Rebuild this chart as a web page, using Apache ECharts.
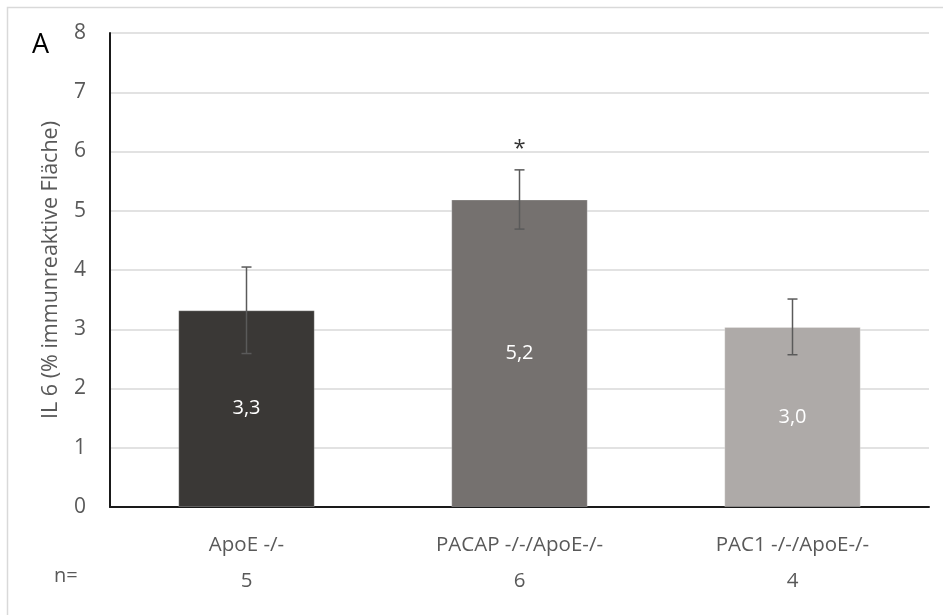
<!DOCTYPE html>
<html>
<head>
<meta charset="utf-8">
<script src="https://cdn.jsdelivr.net/npm/echarts@6/dist/echarts.min.js"></script>
<style>html,body{margin:0;padding:0;background:#fff;}#c{width:943px;height:615px;}</style>
</head>
<body>
<div id="c"></div>
<script>
const categories = ['ApoE -/-', 'PACAP -/-/ApoE-/-', 'PAC1 -/-/ApoE-/-'];
const nValues = [5, 6, 4];
const means = [3.32, 5.19, 3.04];
const errors = [0.73, 0.50, 0.47];
const valueLabels = ['3,3', '5,2', '3,0'];
const significance = ['', '*', ''];
const barColors = ['#3a3836', '#75716f', '#aeaaa8'];
const yTicks = { min: 0, max: 8, interval: 1 };
const yAxisName = 'IL 6 (% immunreaktive Fläche)';
const panelLetter = 'A';

const font = '"Open Sans", "Noto Sans", sans-serif';
const chart = echarts.init(document.getElementById('c'));

const barData = means.map((v, i) => ({
  value: v,
  itemStyle: { color: barColors[i] },
  label: { formatter: valueLabels[i] }
}));
const errData = means.map((v, i) => [i, v - errors[i], v + errors[i]]);
const sigData = means.map((v, i) => ({ value: [i, v + errors[i]], label: { formatter: significance[i] } }));

chart.setOption({
  animation: false,
  backgroundColor: '#fff',
  textStyle: { fontFamily: font },
  grid: { left: 110, right: 14, top: 33, bottom: 108 },
  graphic: [
    { type: 'rect', shape: { x: 7.5, y: 7.5, width: 960, height: 640 }, style: { fill: 'none', stroke: '#d9d9d9', lineWidth: 1.5 }, silent: true },
    { type: 'text', left: 32, top: 32, style: { text: panelLetter, fontSize: 27, fill: '#000', fontFamily: font } },
    { type: 'text', left: 54, top: 566, style: { text: 'n=', fontSize: 20, fill: '#595959', fontFamily: font } }
  ],
  xAxis: {
    type: 'category',
    data: categories,
    axisLine: { lineStyle: { color: '#1a1a1a', width: 2 } },
    axisTick: { show: false },
    axisLabel: {
      margin: 20,
      formatter: (val, idx) => '{a|' + val + '}\n{b|' + nValues[idx] + '}',
      rich: {
        a: { fontSize: 20.5, color: '#595959', fontFamily: font, lineHeight: 36 },
        b: { fontSize: 20.5, color: '#595959', fontFamily: font, lineHeight: 36 }
      }
    }
  },
  yAxis: {
    type: 'value',
    min: yTicks.min, max: yTicks.max, interval: yTicks.interval,
    name: yAxisName,
    nameLocation: 'middle',
    nameGap: 48,
    nameTextStyle: { fontSize: 21.5, color: '#595959', fontFamily: font },
    axisLine: { show: true, lineStyle: { color: '#1a1a1a', width: 2 } },
    axisTick: { show: false },
    axisLabel: { fontSize: 21, color: '#595959', margin: 24, fontFamily: font },
    splitLine: { lineStyle: { color: '#d9d9d9', width: 1.5 } }
  },
  series: [
    {
      type: 'bar',
      data: barData,
      barWidth: '50%',
      itemStyle: { borderColor: 'rgba(255,255,255,0.25)', borderWidth: 1 },
      label: { show: true, position: 'inside', color: '#fff', fontSize: 20, fontFamily: font }
    },
    {
      type: 'custom',
      data: errData,
      z: 5,
      renderItem: function (params, api) {
        const x = api.value(0);
        const lo = api.coord([x, api.value(1)]);
        const hi = api.coord([x, api.value(2)]);
        const hw = 5;
        const st = { stroke: '#5a5a5a', lineWidth: 1.5 };
        return {
          type: 'group',
          children: [
            { type: 'line', shape: { x1: lo[0], y1: lo[1], x2: hi[0], y2: hi[1] }, style: st },
            { type: 'line', shape: { x1: lo[0] - hw, y1: lo[1], x2: lo[0] + hw, y2: lo[1] }, style: st },
            { type: 'line', shape: { x1: hi[0] - hw, y1: hi[1], x2: hi[0] + hw, y2: hi[1] }, style: st }
          ]
        };
      }
    },
    {
      type: 'scatter',
      data: sigData,
      symbolSize: 0,
      z: 6,
      label: { show: true, position: 'top', distance: 10, color: '#000', fontSize: 22, fontFamily: font }
    }
  ]
});
</script>
</body>
</html>
